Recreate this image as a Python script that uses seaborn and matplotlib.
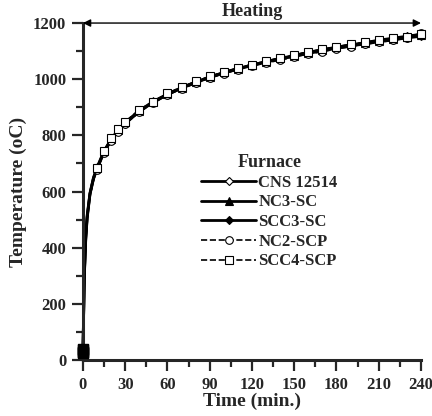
import numpy as np
import pandas as pd
import matplotlib
matplotlib.use("Agg")
import matplotlib.pyplot as plt
import seaborn as sns

# ---- data ----
time_min = [0, 1, 2, 3, 5, 7.5, 10, 15, 20, 25, 30, 40, 50, 60, 70, 80, 90, 100,
            110, 120, 130, 140, 150, 160, 170, 180, 190, 200, 210, 220, 230, 240]
cns_12514 = [25, 300, 430, 505, 590, 645, 680, 740, 782, 815, 842, 885, 918, 945, 968,
             988, 1006, 1022, 1036, 1049, 1061, 1072, 1082, 1092, 1101, 1110, 1118,
             1126, 1133, 1140, 1147, 1153]
nc3_sc = [30, 310, 440, 515, 595, 650, 686, 745, 786, 820, 846, 888, 921, 947, 970,
          990, 1008, 1024, 1038, 1050, 1063, 1074, 1084, 1094, 1104, 1113, 1121,
          1129, 1137, 1144, 1151, 1158]
scc3_sc = [30, 305, 435, 510, 592, 648, 683, 742, 784, 818, 844, 886, 919, 946, 969,
           989, 1007, 1023, 1037, 1051, 1062, 1073, 1083, 1096, 1105, 1114, 1122,
           1130, 1139, 1146, 1153, 1160]
nc2_scp = [35, 295, 425, 500, 585, 640, 678, 738, 780, 812, 840, 883, 915, 944, 966,
           985, 1004, 1020, 1034, 1047, 1058, 1068, 1079, 1090, 1098, 1108, 1116,
           1124, 1132, 1138, 1147, 1164]
scc4_scp = [40, 300, 430, 505, 590, 645, 684, 746, 790, 822, 848, 892, 920, 950, 972,
            992, 1010, 1026, 1040, 1052, 1064, 1076, 1087, 1098, 1106, 1116, 1124,
            1131, 1138, 1145, 1152, 1162]
series_names = ["CNS 12514", "NC3-SC", "SCC3-SC", "NC2-SCP", "SCC4-SCP"]
series_values = [cns_12514, nc3_sc, scc3_sc, nc2_scp, scc4_scp]
x_ticks = [0, 30, 60, 90, 120, 150, 180, 210, 240]
y_ticks = [0, 200, 400, 600, 800, 1000, 1200]

df = pd.concat([pd.DataFrame({"Time": time_min, "Temp": v, "Series": n})
                for n, v in zip(series_names, series_values)], ignore_index=True)

sns.set_style("ticks")
plt.rcParams["font.family"] = ["Liberation Serif", "DejaVu Serif"]
plt.rcParams["font.weight"] = "bold"

fig = plt.figure(figsize=(4.32, 4.16), dpi=100)
ax = fig.add_axes([0.192, 0.1346, 0.7825, 0.81])

styles = {
    "CNS 12514": dict(marker="D", mfc="white", ls="-", lw=2.0, ms=4.5),
    "NC3-SC": dict(marker="^", mfc="black", ls="-", lw=2.0, ms=5.5),
    "SCC3-SC": dict(marker="D", mfc="black", ls="-", lw=2.0, ms=4.5),
    "NC2-SCP": dict(marker="o", mfc="white", ls="--", lw=1.2, ms=5.5),
    "SCC4-SCP": dict(marker="s", mfc="white", ls="--", lw=1.2, ms=5.5),
}
mark_idx = list(range(6, len(time_min)))
for name in series_names:
    st = styles[name]
    sns.lineplot(data=df[df.Series == name], x="Time", y="Temp", ax=ax,
                 color="black", linestyle=st["ls"], linewidth=st["lw"],
                 marker=st["marker"], markersize=st["ms"], markevery=mark_idx,
                 markerfacecolor=st["mfc"], markeredgecolor="black",
                 markeredgewidth=0.8, label=name, clip_on=False)
# start-point cluster at t = 0 (drawn filled, as in the reference)
ax.scatter([time_min[0]] * len(series_values), [v[0] for v in series_values],
           marker="s", s=45, color="black", zorder=5, clip_on=False)

ax.set_xlim(0, 240)
ax.set_ylim(0, 1200)
ax.set_xticks(x_ticks)
ax.set_yticks(y_ticks)
ax.set_xticks(np.arange(15, 240, 30), minor=True)
ax.set_yticks(np.arange(100, 1200, 200), minor=True)
ax.tick_params(axis="both", which="major", length=8, width=1.6, labelsize=12, pad=4)
ax.tick_params(axis="both", which="minor", length=5, width=1.6)
for lbl in ax.get_xticklabels() + ax.get_yticklabels():
    lbl.set_fontweight("bold")
sns.despine(ax=ax)
ax.spines["left"].set_linewidth(2.2)
ax.spines["bottom"].set_linewidth(2.2)
ax.set_xlabel("Time (min.)", fontsize=14, fontweight="bold", labelpad=0)
ax.set_ylabel("Temperature (oC)", fontsize=14, fontweight="bold", labelpad=4)

ax.annotate("", xy=(0, 1200), xytext=(240, 1200),
            arrowprops=dict(arrowstyle="<|-|>", color="black", lw=1.0,
                            mutation_scale=11, shrinkA=0, shrinkB=0),
            annotation_clip=False)
ax.text(120, 1210, "Heating", ha="center", va="bottom", fontsize=13,
        fontweight="bold")

leg = ax.legend(title="Furnace", loc="upper left",
                bbox_to_anchor=(201 / 432, 1 - 154 / 416),
                bbox_transform=fig.transFigure,
                frameon=False, fontsize=12,
                title_fontproperties={"weight": "bold", "size": 13},
                handlelength=3.3, labelspacing=0.22, borderpad=0.0,
                handletextpad=0.15, borderaxespad=0.0)
for t in leg.get_texts():
    t.set_fontweight("bold")

fig.savefig("out.png", dpi=100)
